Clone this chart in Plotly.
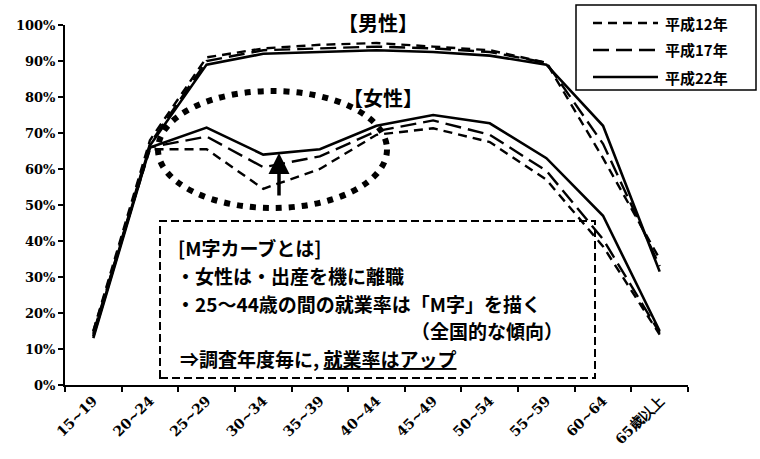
import plotly.graph_objects as go

# ---------------- data ----------------
categories = ["15~19", "20~24", "25~29", "30~34", "35~39", "40~44",
              "45~49", "50~54", "55~59", "60~64", "65歳以上"]

series_names = ["平成12年", "平成17年", "平成22年"]

male_h12 = [15.0, 68.0, 91.0, 93.5, 94.5, 95.0, 94.0, 93.0, 89.5, 63.0, 35.0]
male_h17 = [14.0, 67.0, 90.0, 93.0, 93.5, 94.0, 93.5, 92.5, 89.5, 67.0, 33.0]
male_h22 = [13.5, 66.5, 89.0, 92.0, 92.5, 93.0, 92.5, 91.5, 89.0, 72.0, 31.5]

female_h12 = [15.0, 65.5, 65.5, 54.5, 60.0, 69.5, 71.3, 67.5, 57.0, 38.5, 14.0]
female_h17 = [14.5, 66.0, 69.0, 60.5, 63.5, 70.5, 73.5, 69.5, 59.5, 40.5, 14.5]
female_h22 = [13.0, 66.0, 71.5, 64.0, 65.5, 72.0, 75.0, 72.7, 63.0, 47.0, 15.0]

y_ticks = [0, 10, 20, 30, 40, 50, 60, 70, 80, 90, 100]

# ---------------- styles ----------------
dash_styles = ["9px,6px", "16px,7px", "solid"]
line_widths = [2.4, 2.4, 2.6]

W, H = 760, 459
ML, MR, MT, MB = 65, 72, 25, 74
PW, PH = W - ML - MR, H - MT - MB


def px(x):
    return (x - ML) / PW


def py(y):
    return (H - MB - y) / PH


fig = go.Figure()

male = [male_h12, male_h17, male_h22]
female = [female_h12, female_h17, female_h22]
for i, name in enumerate(series_names):
    for group, data in (("男性", male[i]), ("女性", female[i])):
        fig.add_trace(go.Scatter(
            x=categories, y=[v / 100 for v in data], mode="lines",
            name=f"{group} {name}", showlegend=False,
            line=dict(color="black", width=line_widths[i], dash=dash_styles[i]),
            hoverinfo="skip",
        ))

shapes = []
annotations = []

# custom legend (box + samples + labels)
shapes.append(dict(type="rect", xref="paper", yref="paper",
                   x0=px(576), x1=px(756), y0=py(90), y1=py(5),
                   line=dict(color="black", width=1.5), fillcolor="white", layer="above"))
leg_y = [23, 50, 77]
for i, name in enumerate(series_names):
    shapes.append(dict(type="line", xref="paper", yref="paper",
                       x0=px(593), x1=px(658), y0=py(leg_y[i]), y1=py(leg_y[i]),
                       line=dict(color="black", width=line_widths[i], dash=dash_styles[i])))
    annotations.append(dict(xref="paper", yref="paper", x=px(663), y=py(leg_y[i]),
                            text=name, showarrow=False, xanchor="left", yanchor="middle",
                            font=dict(family="Noto Sans CJK JP", size=15, color="black", weight="bold")))

# dotted ellipse
shapes.append(dict(type="circle", xref="paper", yref="paper",
                   x0=px(158), x1=px(387), y0=py(208), y1=py(91),
                   line=dict(color="black", width=6, dash="6px,7px")))

# dashed explanation box
shapes.append(dict(type="rect", xref="paper", yref="paper",
                   x0=px(160), x1=px(595), y0=py(378), y1=py(221),
                   line=dict(color="black", width=2, dash="8px,4px")))

txt_font = dict(family="Noto Sans CJK JP", size=19, color="black", weight="bold")
box_lines = [
    ("[M字カーブとは]", 176, 247, "left"),
    ("・女性は・出産を機に離職", 174, 275, "left"),
    ("・25～44歳の間の就業率は「M字」を描く", 174, 303, "left"),
    ("（全国的な傾向）", 565, 330, "right"),
    ("⇒調査年度毎に, <u>就業率はアップ</u>", 178, 358, "left"),
]
for t, x, y, anc in box_lines:
    annotations.append(dict(xref="paper", yref="paper", x=px(x), y=py(y), text=t,
                            showarrow=False, xanchor=anc, yanchor="middle", font=txt_font))

# group labels
lab_font = dict(family="Noto Sans CJK JP", size=20, color="black", weight="bold")
annotations.append(dict(xref="paper", yref="paper", x=px(378), y=py(22), text="【男性】",
                        showarrow=False, xanchor="center", yanchor="middle", font=lab_font))
annotations.append(dict(xref="paper", yref="paper", x=px(383), y=py(98), text="【女性】",
                        showarrow=False, xanchor="center", yanchor="middle", font=lab_font))

# upward arrow
annotations.append(dict(xref="paper", yref="paper", x=px(279), y=py(153), ax=0, ay=44,
                        text="", showarrow=True, arrowhead=2, arrowsize=1.2,
                        arrowwidth=3.5, arrowcolor="black"))

tick_font = dict(family="DejaVu Serif", size=13, color="black", weight="bold")

fig.update_layout(
    width=W, height=H,
    margin=dict(l=ML, r=MR, t=MT, b=MB),
    paper_bgcolor="white", plot_bgcolor="white",
    shapes=shapes, annotations=annotations,
    showlegend=False,
    xaxis=dict(type="category", categoryorder="array", categoryarray=categories,
               range=[-0.5, len(categories) - 0.5], tickson="boundaries",
               ticks="outside", ticklen=5, tickwidth=1.5, tickcolor="black",
               showline=True, linecolor="black", linewidth=2, showgrid=False,
               zeroline=False, tickangle=-45, tickfont=dict(family="DejaVu Serif", size=14,
                                                             color="black", weight="bold")),
    yaxis=dict(range=[0, 1], tickvals=[v / 100 for v in y_ticks],
               ticktext=[f"{v}%" for v in y_ticks],
               ticks="outside", ticklen=5, tickwidth=1.5, tickcolor="black",
               showline=True, linecolor="black", linewidth=2, showgrid=False,
               zeroline=False, tickfont=tick_font),
)

fig.write_html("out.html")
